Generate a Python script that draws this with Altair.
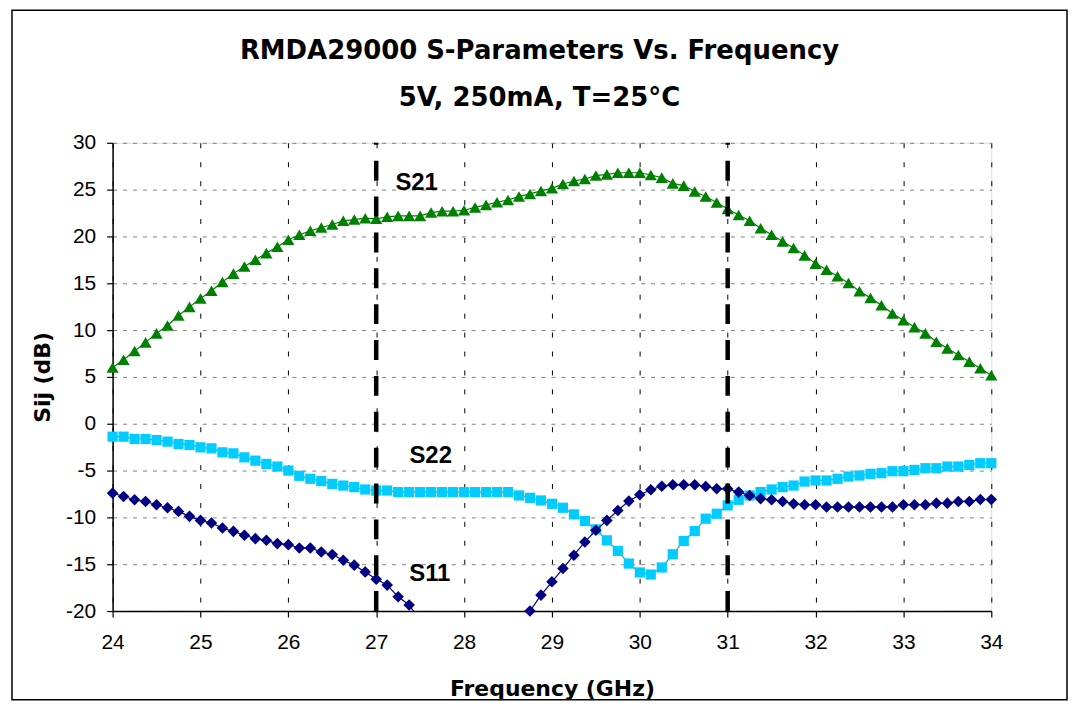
import altair as alt
import pandas as pd

FREQ = [24.0, 24.125, 24.25, 24.375, 24.5, 24.625, 24.75, 24.875,
        25.0, 25.125, 25.25, 25.375, 25.5, 25.625, 25.75, 25.875,
        26.0, 26.125, 26.25, 26.375, 26.5, 26.625, 26.75, 26.875,
        27.0, 27.125, 27.25, 27.375, 27.5, 27.625, 27.75, 27.875,
        28.0, 28.125, 28.25, 28.375, 28.5, 28.625, 28.75, 28.875,
        29.0, 29.125, 29.25, 29.375, 29.5, 29.625, 29.75, 29.875,
        30.0, 30.125, 30.25, 30.375, 30.5, 30.625, 30.75, 30.875,
        31.0, 31.125, 31.25, 31.375, 31.5, 31.625, 31.75, 31.875,
        32.0, 32.125, 32.25, 32.375, 32.5, 32.625, 32.75, 32.875,
        33.0, 33.125, 33.25, 33.375, 33.5, 33.625, 33.75, 33.875,
        34.0]

S21 = [6.0, 6.84, 7.77, 8.69, 9.65, 10.5, 11.56, 12.48, 13.37, 14.2,
       15.14, 16.03, 16.8, 17.52, 18.22, 18.9, 19.65, 20.18, 20.6, 20.96,
       21.28, 21.67, 21.8, 21.95, 21.88, 22.1, 22.2, 22.2, 22.2, 22.55,
       22.7, 22.7, 22.8, 23.1, 23.37, 23.65, 23.9, 24.26, 24.54, 24.86,
       25.14, 25.6, 25.92, 26.14, 26.5, 26.63, 26.8, 26.8, 26.8, 26.56,
       26.28, 25.67, 25.43, 24.8, 24.26, 23.62, 22.94, 22.3, 21.67, 20.88,
       20.18, 19.47, 18.76, 17.98, 17.1, 16.45, 15.74, 15.03, 14.15, 13.44,
       12.66, 11.77, 11.06, 10.32, 9.65, 8.76, 8.05, 7.34, 6.63, 5.92,
       5.18]

S22 = [-1.38, -1.38, -1.63, -1.63, -1.74, -1.91, -2.16, -2.27, -2.52, -2.63,
       -3.05, -3.16, -3.59, -3.94, -4.29, -4.57, -5.0, -5.56, -5.88, -6.13,
       -6.42, -6.6, -6.77, -7.02, -7.13, -7.13, -7.3, -7.3, -7.3, -7.3,
       -7.3, -7.3, -7.3, -7.3, -7.3, -7.3, -7.3, -7.66, -7.91, -8.19,
       -8.55, -8.97, -9.68, -10.39, -11.28, -12.45, -13.58, -14.93, -15.88, -16.1,
       -15.35, -13.94, -12.52, -11.46, -10.14, -9.61, -8.72, -8.12, -7.66, -7.3,
       -7.02, -6.77, -6.6, -6.17, -6.06, -6.06, -5.88, -5.64, -5.53, -5.35,
       -5.28, -5.07, -5.07, -4.93, -4.75, -4.75, -4.57, -4.57, -4.4, -4.22,
       -4.22]

S11 = [-7.41, -7.77, -8.12, -8.3, -8.65, -8.97, -9.36, -9.89, -10.32, -10.6,
       -11.14, -11.49, -11.91, -12.27, -12.45, -12.8, -12.91, -13.26, -13.26, -13.69,
       -13.97, -14.57, -15.1, -15.82, -16.6, -17.23, -18.48, -19.36, -21.0, -22.8,
       -24.6, -26.2, -27.4, -28.0, -27.6, -26.0, -23.8, -21.8, -20.0, -18.3,
       -16.88, -15.46, -14.04, -12.62, -11.38, -10.32, -9.26, -8.26, -7.59, -7.05,
       -6.67, -6.52, -6.52, -6.52, -6.7, -6.95, -6.95, -7.3, -7.66, -8.0,
       -8.12, -8.3, -8.55, -8.65, -8.65, -8.9, -8.9, -8.9, -8.9, -8.9,
       -8.9, -8.9, -8.65, -8.65, -8.65, -8.48, -8.48, -8.3, -8.3, -8.09,
       -8.09]

SERIES = ["S21", "S22", "S11"]
MARKER_COLORS = ["#008000", "#00CCFF", "#000080"]
LINE_COLORS = ["#008000", "#2A9FB5", "#000080"]
SHAPES = ["triangle-up", "square", "diamond"]
SIZES = [150, 105, 135]

MARKER_F = [27, 31]
LABEL_TEXT = ["S21", "S22", "S11"]
LABEL_F = [27.46, 27.62, 27.61]
LABEL_V = [25.75, -3.5, -16.1]

X_TICKS = [24, 25, 26, 27, 28, 29, 30, 31, 32, 33, 34]
Y_TICKS = [-20, -15, -10, -5, 0, 5, 10, 15, 20, 25, 30]
TITLE = ["RMDA29000 S-Parameters Vs. Frequency", "5V, 250mA, T=25°C"]

W, H = 882, 470

xscale = alt.Scale(domain=[24, 34], nice=False, zero=False)
yscale = alt.Scale(domain=[-20, 30], nice=False, zero=False)

LBL = "datum.value < 0 ? '-' + abs(datum.value) : '' + datum.value"

xaxis = alt.Axis(values=X_TICKS, title="Frequency (GHz)", grid=True,
                 gridColor="black", gridDash=[5, 14], gridWidth=1,
                 domainColor="black", domainWidth=1.5, tickColor="black",
                 tickSize=6, tickWidth=1.2, labelFont="Liberation Sans",
                 labelFontSize=21, labelColor="black", labelPadding=15,
                 labelFlush=False, labelExpr=LBL, titleFont="DejaVu Sans",
                 titleFontSize=22, titleFontWeight="bold", titleColor="black",
                 titlePadding=26)
yaxis = alt.Axis(values=Y_TICKS, title="Sij (dB)", grid=True,
                 gridColor="#808080", gridDash=[4, 6], gridWidth=1,
                 domainColor="black", domainWidth=1.5, tickColor="black",
                 tickSize=6, tickWidth=1.2, labelFont="Liberation Sans",
                 labelFontSize=21, labelColor="black", labelPadding=11,
                 labelFlush=False, labelExpr=LBL, titleFont="DejaVu Sans",
                 titleFontSize=22, titleFontWeight="bold", titleColor="black",
                 titlePadding=11)

X = alt.X("f:Q", scale=xscale, axis=xaxis)

layers = []
for name, vals, mc, lc, shp, sz in zip(SERIES, [S21, S22, S11], MARKER_COLORS,
                                        LINE_COLORS, SHAPES, SIZES):
    d = pd.DataFrame({"f": FREQ, "v": vals})
    line = alt.Chart(d).mark_line(color=lc, strokeWidth=1.2, clip=True).encode(
        x=X, y=alt.Y("v:Q", scale=yscale, axis=yaxis))
    pts = alt.Chart(d).transform_filter("datum.v >= -20").mark_point(
        shape=shp, size=sz, filled=True, color=mc, opacity=1).encode(
        x=X, y=alt.Y("v:Q", scale=yscale, axis=yaxis))
    layers += [line, pts]

rules_df = pd.DataFrame({"f": MARKER_F, "lo": [-20] * len(MARKER_F),
                         "hi": [30] * len(MARKER_F)})
rules = alt.Chart(rules_df).mark_rule(color="black", strokeWidth=4.5,
                                      strokeDash=[20, 16]).encode(
    x=X, y=alt.Y("lo:Q", scale=yscale, axis=yaxis), y2="hi:Q")

lab_df = pd.DataFrame({"f": LABEL_F, "v": LABEL_V, "t": LABEL_TEXT})
labels = alt.Chart(lab_df).mark_text(font="Liberation Sans", fontSize=24,
                                     fontWeight="bold", color="black",
                                     align="center", baseline="middle").encode(
    x=X, y=alt.Y("v:Q", scale=yscale, axis=yaxis), text="t:N")

border = alt.Chart(pd.DataFrame({"k": [0]})).mark_rect(
    fillOpacity=0, stroke="black", strokeWidth=1.5).encode(
    x=alt.value(-101), x2=alt.value(958), y=alt.value(-133), y2=alt.value(559))

chart = alt.layer(*layers, rules, labels, border).properties(
    width=W, height=H,
    title=alt.TitleParams(text=TITLE, font="DejaVu Sans", fontSize=26,
                          fontWeight="bold", color="black", anchor="middle",
                          frame="bounds", offset=-123, lineHeight=47,
                          baseline="alphabetic"),
    padding={"left": 3, "top": 0, "right": 0, "bottom": 0},
).configure_view(stroke="#808080", strokeWidth=1).configure(background="white")

chart.save("out.html", embed_options={"renderer": "svg", "actions": False})
